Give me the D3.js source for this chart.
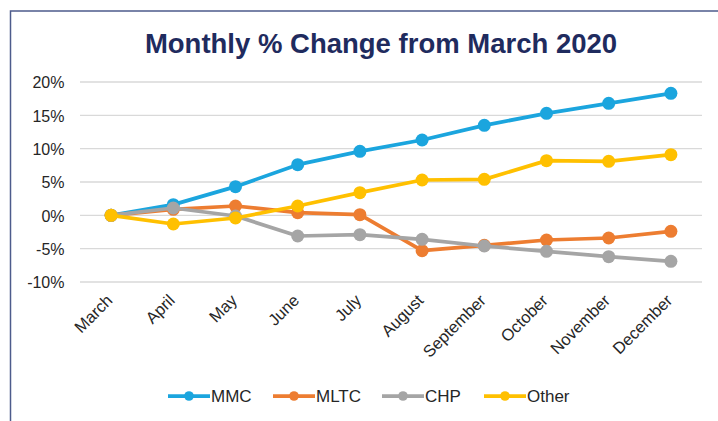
<!DOCTYPE html>
<html><head><meta charset="utf-8">
<script src="https://cdn.jsdelivr.net/npm/d3@7"></script>
<style>html,body{margin:0;padding:0;background:#fff;}svg{display:block;}</style>
</head><body>
<svg id="chart" width="718" height="421"></svg>
<script>
const months = ["March","April","May","June","July","August","September","October","November","December"];
const mmc   = [0, 1.6, 4.3, 7.6, 9.6, 11.3, 13.5, 15.3, 16.8, 18.3];
const mltc  = [0, 0.9, 1.4, 0.4, 0.1, -5.3, -4.5, -3.7, -3.4, -2.4];
const chp   = [0, 1.1, -0.1, -3.1, -2.9, -3.6, -4.6, -5.4, -6.2, -6.9];
const other = [0, -1.3, -0.4, 1.4, 3.4, 5.3, 5.4, 8.2, 8.1, 9.1];
const yTicks = [-10, -5, 0, 5, 10, 15, 20];
const seriesNames = ["MMC","MLTC","CHP","Other"];
const seriesColors = ["#1BA5DE","#ED7D31","#A5A5A5","#FFC000"];
const seriesData = [mmc, mltc, chp, other];

const svg = d3.select("#chart");
const font = "'Liberation Sans', Arial, sans-serif";

// outer border
svg.append("rect").attr("x",10.5).attr("y",11).attr("width",730).attr("height",430)
  .attr("fill","none").attr("stroke","#4D5B8C").attr("stroke-width",1.5);

svg.append("text").attr("x",381).attr("y",52.5).attr("text-anchor","middle")
  .attr("font-family",font).attr("font-weight","bold").attr("font-size",27.5)
  .attr("fill","#1F2B5E").text("Monthly % Change from March 2020");

const x = d3.scaleBand().domain(months).range([80,702]);
const y = d3.scaleLinear().domain([-10,20]).range([282,82]);

const grid = svg.append("g");
yTicks.forEach(t=>{
  grid.append("line").attr("x1",80).attr("x2",702).attr("y1",y(t)).attr("y2",y(t))
    .attr("stroke","#D9D9D9").attr("stroke-width",1.3);
});
const yAxis = svg.append("g").attr("transform","translate(64.5,0)")
  .call(d3.axisLeft(y).tickValues(yTicks).tickSize(0).tickPadding(0).tickFormat(d=>d+"%"));
yAxis.select(".domain").remove();
yAxis.selectAll("text").attr("font-family",font).attr("font-size",16).attr("fill","#262626").attr("dy","0.36em");

const xAxis = svg.append("g").attr("transform","translate(0,282)")
  .call(d3.axisBottom(x).tickSize(0));
xAxis.select(".domain").remove();
xAxis.selectAll("text").attr("font-family",font).attr("font-size",16.5).attr("fill","#262626")
  .attr("text-anchor","end").attr("y",0).attr("dy",0)
  .attr("transform","translate(2.5,19.5) rotate(-45)");

const cx = i => x(months[i]) + x.bandwidth()/2;
const line = d3.line().x((d,i)=>cx(i)).y(d=>y(d));
seriesData.forEach((vals,k)=>{
  const g = svg.append("g");
  g.append("path").datum(vals).attr("d",line).attr("fill","none")
    .attr("stroke",seriesColors[k]).attr("stroke-width",3.75).attr("stroke-linejoin","round");
  g.selectAll("circle").data(vals).join("circle")
    .attr("cx",(d,i)=>cx(i)).attr("cy",d=>y(d)).attr("r",6.5).attr("fill",seriesColors[k]);
});

// legend
const legX = [168, 273, 382, 484];
seriesNames.forEach((n,k)=>{
  const g = svg.append("g").attr("transform",`translate(${legX[k]},396)`);
  g.append("line").attr("x1",0).attr("x2",42).attr("stroke",seriesColors[k]).attr("stroke-width",3.75);
  g.append("circle").attr("cx",21).attr("r",4.8).attr("fill",seriesColors[k]);
  g.append("text").attr("x",43).attr("dy","0.36em").attr("font-family",font).attr("font-size",17)
    .attr("fill","#262626").text(n);
});
</script>
</body></html>
